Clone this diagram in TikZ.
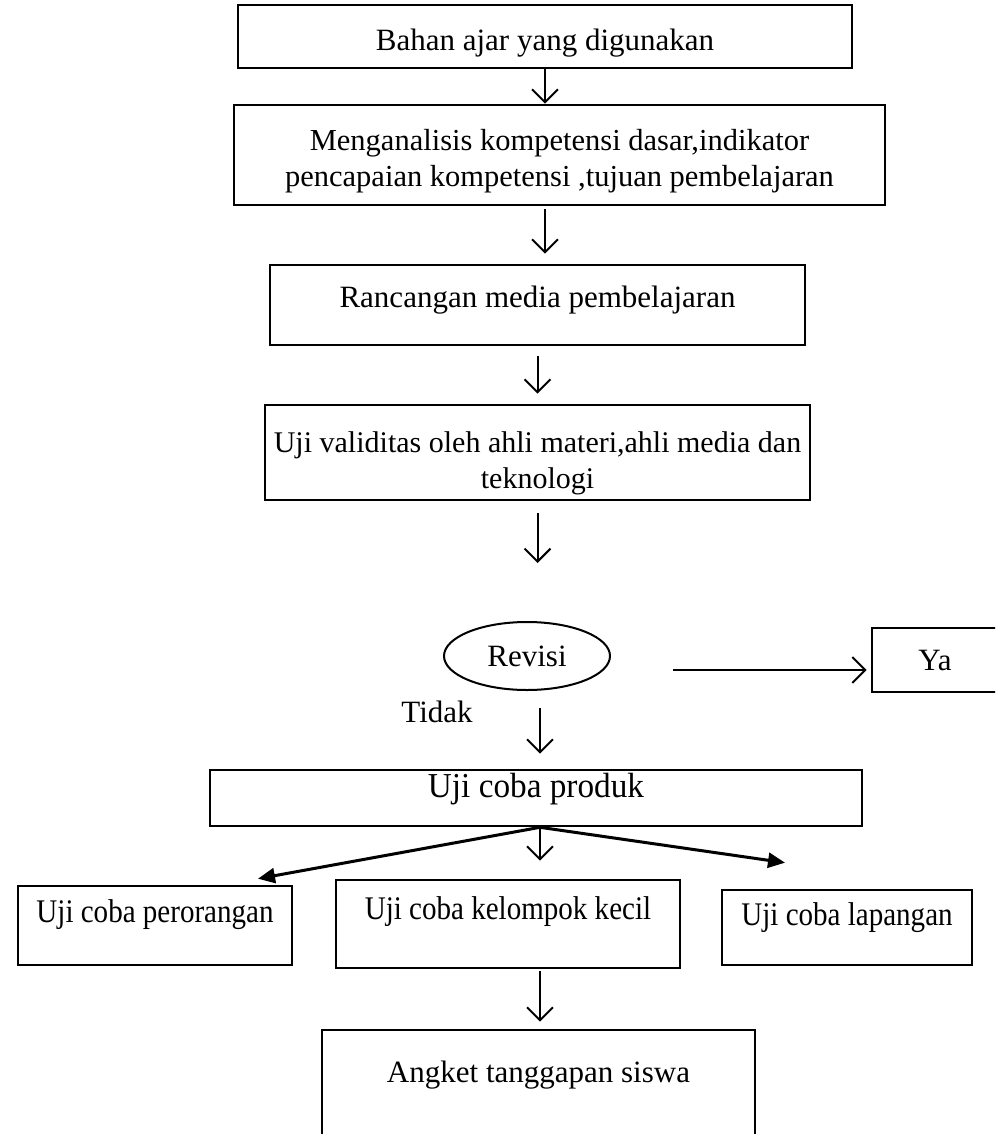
\documentclass[tikz,border=0pt]{standalone}
\usepackage{fontspec}
\usepackage{graphicx}
\setmainfont{Liberation Serif}
\usetikzlibrary{arrows.meta,positioning,shapes.geometric}
\tikzset{
    flow box/.style={
        draw,line width=2.6pt,
        align=center,inner sep=0pt,
        font=\fontsize{31}{36}\selectfont
    },
    small box/.style={flow box,font=\fontsize{33}{38}\selectfont},
    flow oval/.style={
        ellipse,draw,line width=2pt,inner sep=0pt,
        font=\fontsize{31}{36}\selectfont
    },
    flow arrow/.style={line width=2pt,-{Straight Barb[length=13pt,width=26pt,line width=2pt]}},
    branch arrow/.style={line width=3pt,-{Triangle[length=17pt,width=15pt]}}
}
\newcommand{\narrow}[1]{\scalebox{0.88}[1]{#1}}

\begin{document}
\begin{tikzpicture}[x=1pt,y=-1pt]
\clip (0,0) rectangle (995,1134);
\useasboundingbox (0,0) rectangle (995,1134);
% main chain
\node[flow box,minimum width=614pt,minimum height=63pt,text height=35pt] (bahan) at (545,36.5) {Bahan ajar yang digunakan};
\node[flow box,minimum width=651pt,minimum height=100pt,font=\fontsize{30.5}{36}\selectfont] (analisis) at (559.5,155)
    {\rule{0pt}{33pt}Menganalisis kompetensi dasar,indikator\\pencapaian kompetensi ,tujuan pembelajaran};
\node[flow box,minimum width=535pt,minimum height=80pt,text depth=16pt] (rancangan) at (537.5,305) {Rancangan media pembelajaran};
\node[flow box,minimum width=545pt,minimum height=95pt,font=\fontsize{30}{36}\selectfont] (validitas) at (537.5,452.5)
    {\rule{0pt}{42pt}Uji validitas oleh ahli materi,ahli media dan\\teknologi};
\node[flow oval,minimum width=166pt,minimum height=68pt] (revisi) at (527,656) {Revisi};
\node[flow box,minimum width=126pt,minimum height=64pt] (ya) at (935,660) {Ya};
\node[font=\fontsize{31}{36}\selectfont] (tidak) at (437,712) {Tidak};
\node[flow box,minimum width=652pt,minimum height=56pt,text depth=26pt,font=\fontsize{35}{40}\selectfont] (produk) at (536,798) {\scalebox{0.95}[1]{Uji coba produk}};
% three trials
\node[small box,minimum width=274pt,minimum height=79pt,text depth=28pt] (perorangan) at (155,925.5) {\narrow{Uji coba perorangan}};
\node[small box,minimum width=344pt,minimum height=88pt,text depth=32pt] (kelompok) at (508,924) {\narrow{Uji coba kelompok kecil}};
\node[small box,minimum width=250pt,minimum height=75pt,text depth=27pt] (lapangan) at (847,927.5) {\narrow{Uji coba lapangan}};
\node[flow box,minimum width=433pt,minimum height=140pt,text depth=56pt] (angket) at (538.5,1100) {Angket tanggapan siswa};

\draw[flow arrow] (bahan.south) -- (bahan.south |- analisis.north);
\draw[flow arrow,shorten <=3pt,shorten >=10pt] (analisis.south -| bahan.south) -- (bahan.south |- rancangan.north);
\draw[flow arrow,shorten <=10pt,shorten >=10pt] (rancangan.south) -- (rancangan.south |- validitas.north);
\draw[flow arrow,shorten <=12pt,shorten >=58pt] (validitas.south) -- (validitas.south |- revisi.north);
\draw[flow arrow,shorten <=62pt,shorten >=4pt] ([yshift=-14pt]revisi.east) -- ([yshift=-14pt]revisi.east -| ya.west);
\draw[flow arrow,shorten <=17pt,shorten >=15pt] ([xshift=13pt]revisi.south) -- ([xshift=13pt]revisi.south |- produk.north);
% split below the product test
\coordinate (split) at ([xshift=4pt]produk.south);
\draw[branch arrow] (split) -- ([xshift=103pt,yshift=6pt]perorangan.north);
\draw[flow arrow,shorten >=18pt] (split) -- (split |- kelompok.north);
\draw[branch arrow] (split) -- ([xshift=-62pt,yshift=26pt]lapangan.north);
\draw[flow arrow,shorten <=2pt,shorten >=7pt] (kelompok.south -| split) -- (split |- angket.north);
\end{tikzpicture}
\end{document}
